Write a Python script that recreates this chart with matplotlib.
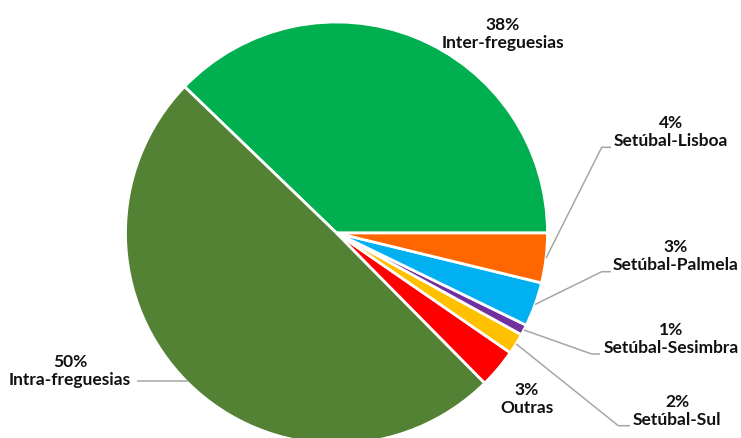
import numpy as np
import matplotlib
matplotlib.use("Agg")
import matplotlib.pyplot as plt

# Data (counter-clockwise from 3 o'clock)
categories = ["Inter-freguesias", "Intra-freguesias", "Outras", "Setúbal-Sul",
              "Setúbal-Sesimbra", "Setúbal-Palmela", "Setúbal-Lisboa"]
values = [37.8, 49.6, 3.0, 1.6, 0.8, 3.4, 3.8]
colors = ["#00B050", "#548235", "#FF0000", "#FFC000", "#7030A0", "#00B0F0", "#FF6600"]

W, H = 741, 439
fig = plt.figure(figsize=(W / 100, H / 100), dpi=100)
ax = fig.add_axes([0, 0, 1, 1])

cx, cy, R = 336.5, H - 234, 211
wedges, _ = ax.pie(values, colors=colors, startangle=0, counterclock=True,
                   center=(cx, cy), radius=R,
                   wedgeprops=dict(edgecolor="white", linewidth=2))
ax.set_xlim(0, W)
ax.set_ylim(0, H)
ax.set_aspect("equal")
ax.axis("off")

total = sum(values)
pct_labels = [f"{round(v / total * 100):.0f}%" for v in values]

# label centres in pixel coords (y from top), and leader line layout
label_pos = {
    "Inter-freguesias": (503, 34),
    "Intra-freguesias": (70, 371),
    "Outras": (527, 399),
    "Setúbal-Sul": (677, 411),
    "Setúbal-Sesimbra": (671, 339),
    "Setúbal-Palmela": (676, 256),
    "Setúbal-Lisboa": (671, 132),
}
# elbow (pixel) and end x of horizontal part
leaders = {
    "Setúbal-Lisboa": ((601.7, 148.3), 611),
    "Setúbal-Palmela": ((601.7, 272.7), 611),
    "Setúbal-Sesimbra": ((591.7, 355.0), 600),
    "Setúbal-Sul": ((618.3, 426.7), 630),
    "Intra-freguesias": (None, 137),
}

for w, cat, pl in zip(wedges, categories, pct_labels):
    lx, ly = label_pos[cat]
    ax.text(lx, H - ly, f"{pl}\n{cat}", ha="center", va="center",
            fontsize=12.5, fontweight="bold", family="Lato", color="#111111",
            linespacing=1.2)
    if cat in leaders:
        ang = np.deg2rad((w.theta1 + w.theta2) / 2)
        sx, sy = cx + R * np.cos(ang), cy + R * np.sin(ang)
        elbow, endx = leaders[cat]
        if elbow is None:
            xs, ys = [sx, endx], [sy + 2, sy + 2]
        else:
            ex, ey = elbow
            xs, ys = [sx, ex, endx], [sy, H - ey, H - ey]
        ax.plot(xs, ys, color="#A6A6A6", lw=1.1, solid_capstyle="butt")

fig.savefig("out.png", dpi=100)
